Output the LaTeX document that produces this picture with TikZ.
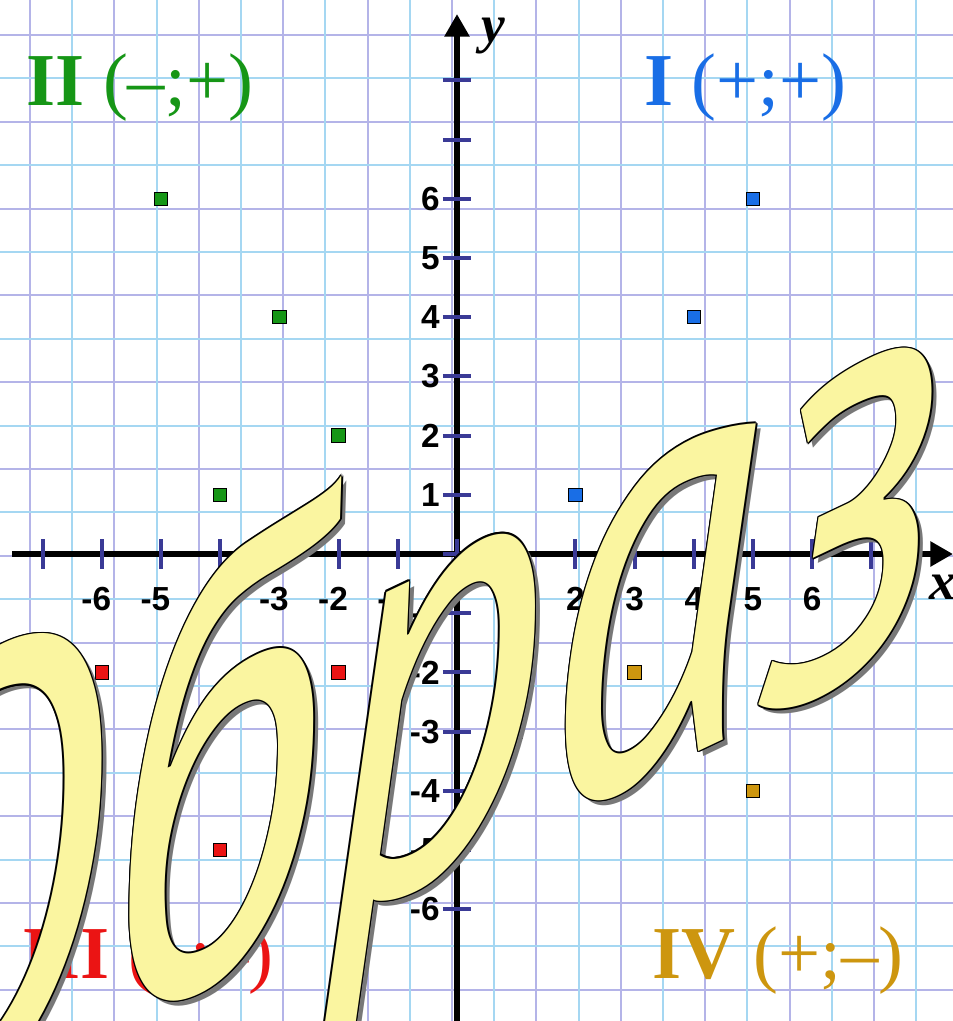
\documentclass[tikz,border=0pt]{standalone}
\usepackage{fontspec}
\setmainfont{Liberation Serif}
\newfontfamily\numfont{Liberation Sans}
\newfontfamily\wordfont{PT Sans}
\usetikzlibrary{arrows.meta}
\definecolor{gridA}{RGB}{180,180,232}
\definecolor{gridB}{RGB}{165,215,242}
\definecolor{tickc}{RGB}{58,58,150}
\definecolor{qgreen}{RGB}{22,150,22}
\definecolor{qblue}{RGB}{25,110,230}
\definecolor{qred}{RGB}{235,20,20}
\definecolor{qgold}{RGB}{205,150,15}
\definecolor{wayel}{RGB}{250,245,160}
\definecolor{wash}{RGB}{120,120,120}
\newcommand\wordart[4]{\node[wordstyle, text=#1] (#4) at ({381+#2},{740+#3}) {Образ};}
\begin{document}
\begin{tikzpicture}[x=0.75pt,y=-0.75pt,
  gridlineA/.style={draw=gridA, line width=1.5pt},
  gridlineB/.style={draw=gridB, line width=1.5pt},
  axisline/.style={draw=black, line width=4.5pt, -{Triangle[length=17pt,width=18pt]}},
  tickmark/.style={draw=tickc, line width=3pt},
  numlab/.style={font=\numfont\bfseries\fontsize{25}{25}\selectfont, inner sep=0},
  ptbox/.style={draw=black, line width=0.8pt, minimum size=10pt, inner sep=0},
  quadlab/.style={font=\fontsize{56}{56}\selectfont, inner sep=0},
  axlab/.style={font=\bfseries\itshape\fontsize{40}{40}\selectfont, inner sep=0},
  wordstyle/.style={font={\wordfont\itshape\fontsize{340}{340}\selectfont}, inner sep=0, anchor=center, cm={0.97,0.46,0,1.35,(0,0)}}
]
\fill[white] (0,0) rectangle (953,1021);
\useasboundingbox (0,0) rectangle (953,1021);
\clip (0,0) rectangle (953,1021);
% grid
\foreach \k in {0,2,...,22} {
  \draw[gridlineA] ({30+42.2*\k},0) -- ({30+42.2*\k},1021);
  \draw[gridlineA] (0,{35+43.4*\k}) -- (953,{35+43.4*\k});
}
\foreach \k in {1,3,...,21} {
  \draw[gridlineB] ({30+42.2*\k},0) -- ({30+42.2*\k},1021);
  \draw[gridlineB] (0,{35+43.4*\k}) -- (953,{35+43.4*\k});
}
% quadrant labels
\node[quadlab, text=qgreen, anchor=base west] (q2) at (26,105) {\textbf{II} (–;+)};
\node[quadlab, text=qblue, anchor=base west] (q1) at (644,105) {\textbf{I} (+;+)};
\node[quadlab, text=qred, anchor=base east] (q3) at (274,978) {\textbf{III} (–;–)};
\node[quadlab, text=qgold, anchor=base west] (q4) at (652,978) {\textbf{IV} (+;–)};
% axes
\coordinate (xs) at (12,554);
\coordinate (xe) at (953,554);
\coordinate (ys) at (457,1021);
\coordinate (ye) at (457,14);
\draw[axisline] (xs) -- (xe);
\draw[axisline] (ys) -- (ye);
\node[axlab] (ylab) at (493,36) {y};
\node[axlab] (xlab) at (943,587) {x};
\begin{scope}[shift={(457,554)}, x=44.4pt, y=44.4pt]
  \foreach \k in {-7,...,7} {
    \draw[tickmark] (\k,-0.25) -- (\k,0.25);
  }
  \foreach \k in {-6,...,8} {
    \draw[tickmark] (-0.24,\k) -- (0.24,\k);
  }
  \foreach \k in {1,...,6} {
    \node[numlab] (xl\k) at (\k,-0.76) {\k};
    \node[numlab] (xm\k) at (-\k,-0.76) {\llap{-}\k};
    \node[numlab, anchor=east] (yl\k) at (-0.29,\k) {\k};
    \node[numlab, anchor=east] (ym\k) at (-0.29,-\k) {-\k};
  }
  % points
  \foreach \px/\py/\c [count=\i] in {-5/6/qgreen, -3/4/qgreen, -2/2/qgreen, -4/1/qgreen,
      5/6/qblue, 4/4/qblue, 2/1/qblue,
      -6/-2/qred, -2/-2/qred, -4/-5/qred,
      3/-2/qgold, 1/-3/qgold, 5/-4/qgold} {
    \node[ptbox, fill=\c] (p\i) at (\px,\py) {};
  }
\end{scope}
% word art
\wordart{wash}{5}{5}{wsh}
\wordart{black}{1.5}{0}{wo1}
\wordart{black}{-1.5}{0}{wo2}
\wordart{black}{0}{1.5}{wo3}
\wordart{black}{0}{-1.5}{wo4}
\wordart{black}{1.1}{1.1}{wo5}
\wordart{black}{-1.1}{1.1}{wo6}
\wordart{black}{1.1}{-1.1}{wo7}
\wordart{black}{-1.1}{-1.1}{wo8}
\wordart{wayel}{0}{0}{wmain}
\end{tikzpicture}
\end{document}
